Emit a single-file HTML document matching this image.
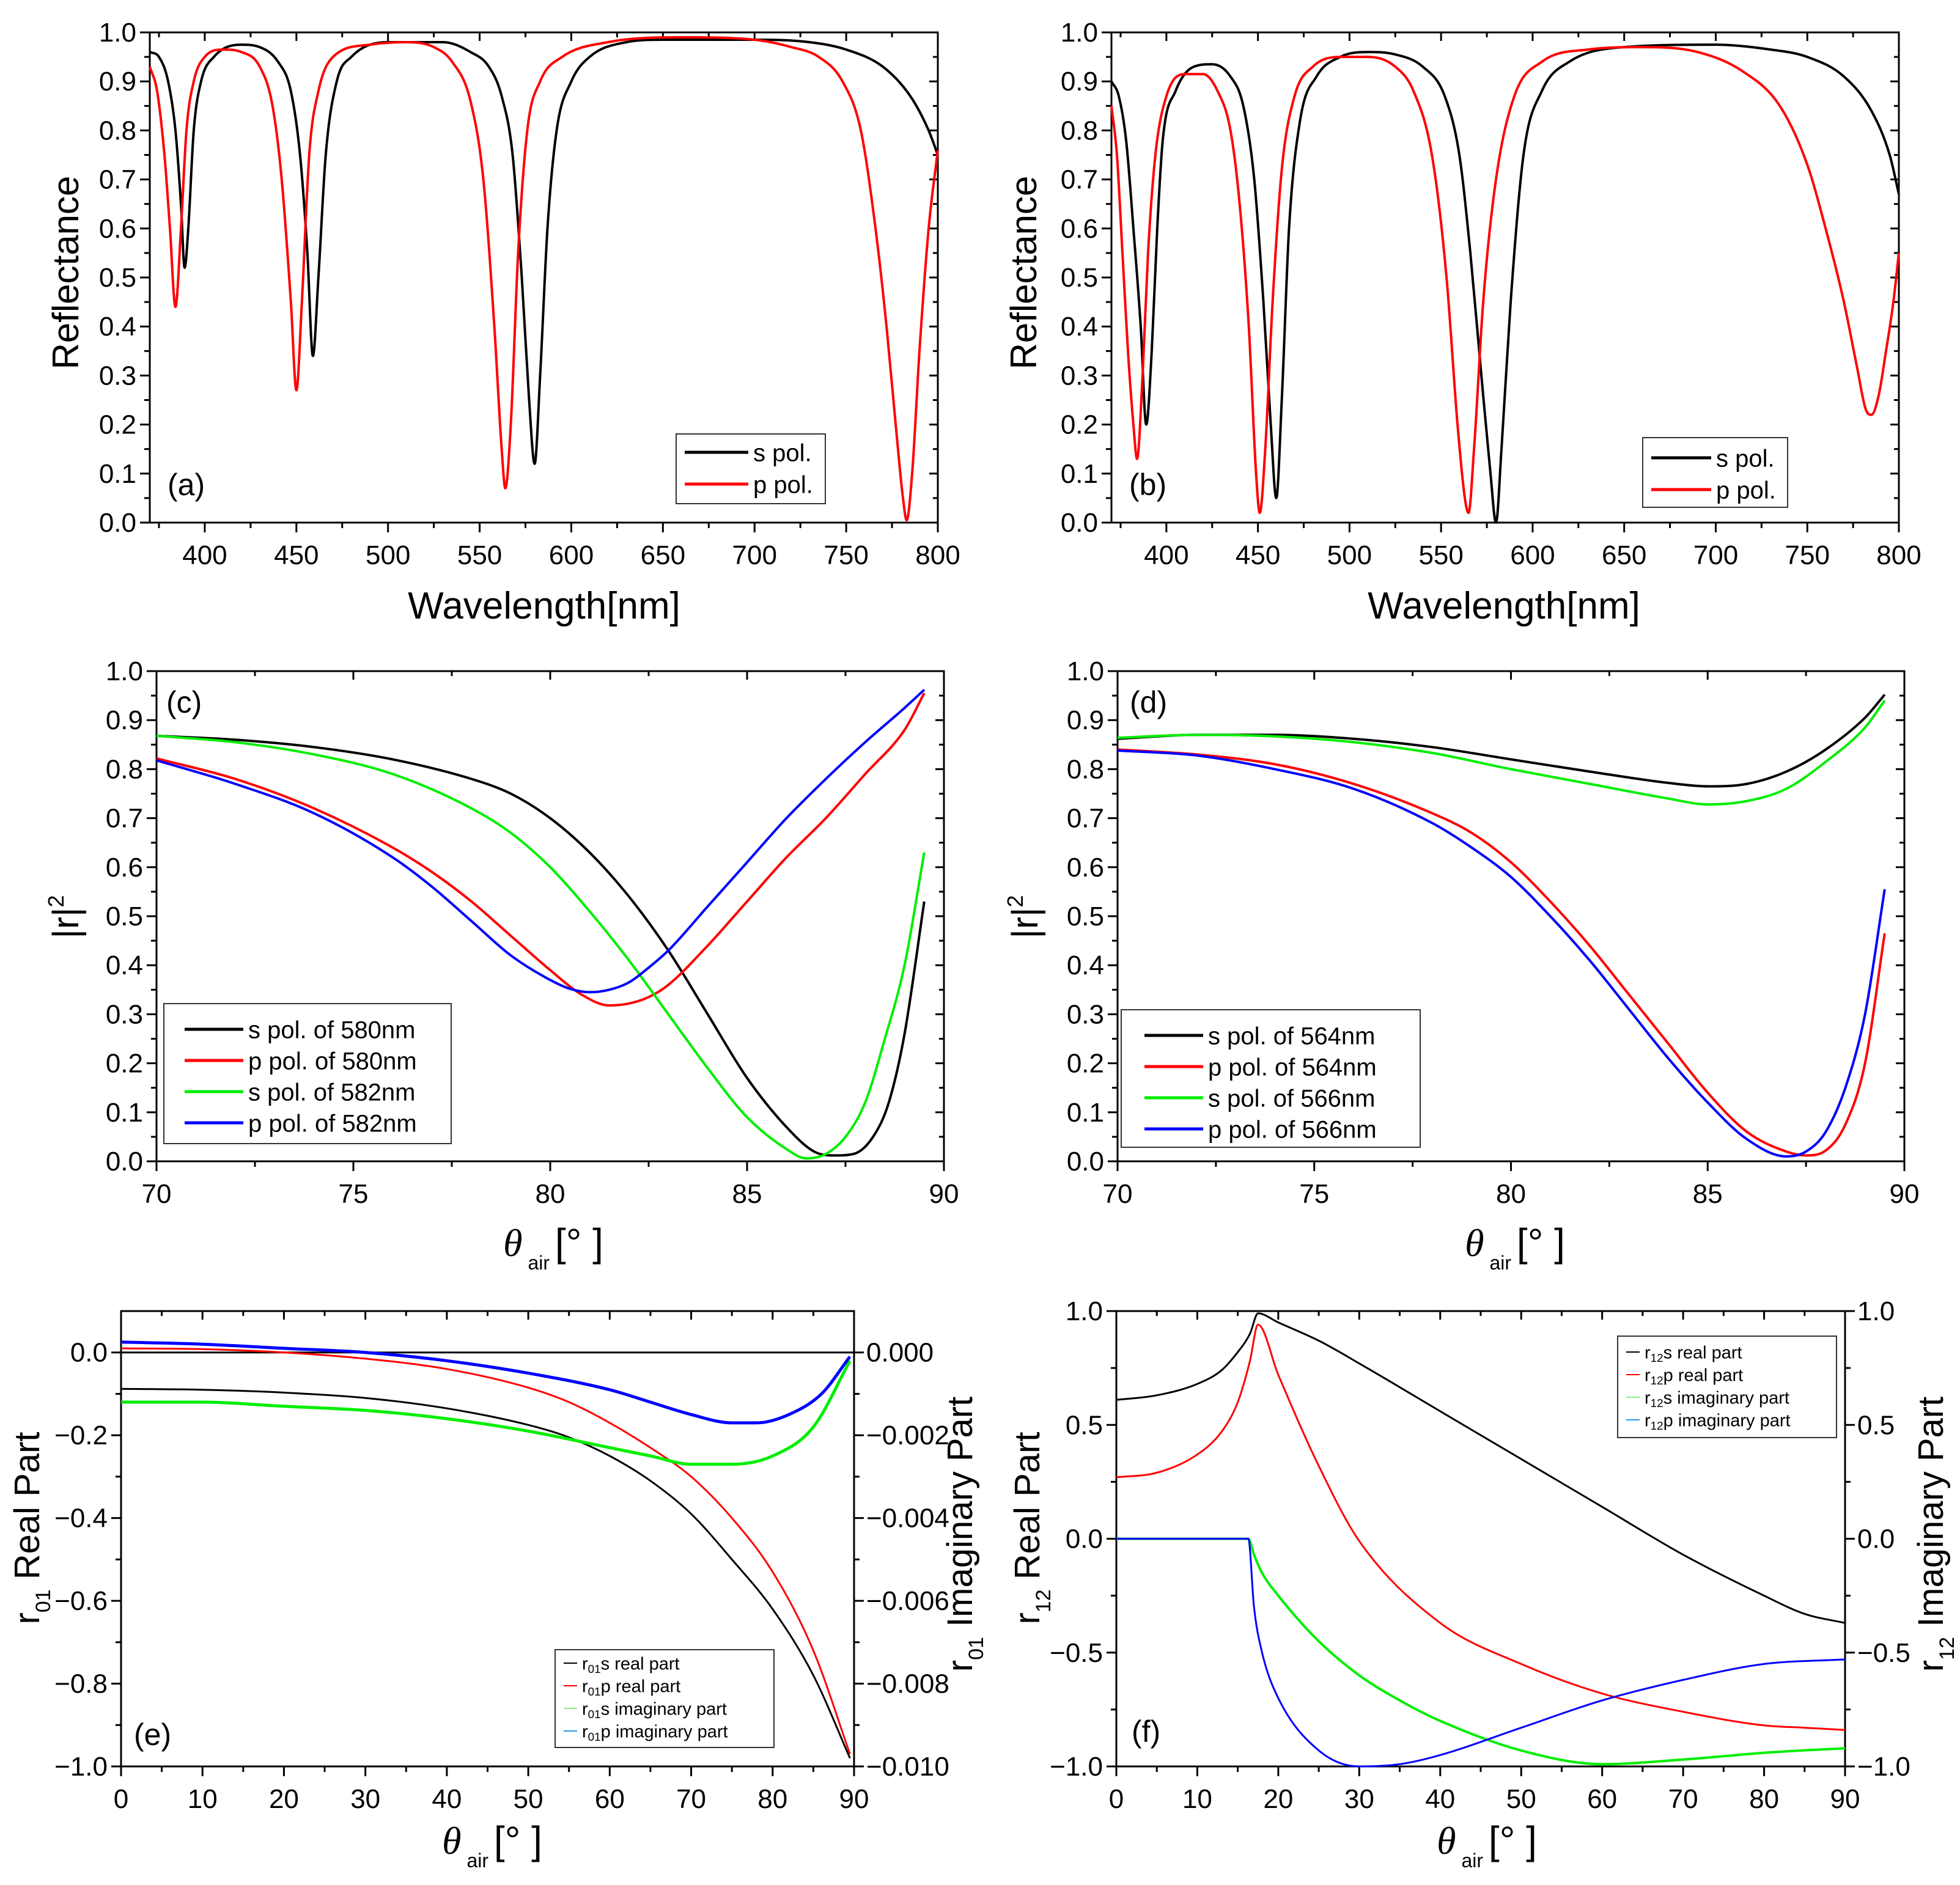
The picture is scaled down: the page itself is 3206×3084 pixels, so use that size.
<!DOCTYPE html>
<html><head><meta charset="utf-8">
<style>
html,body{margin:0;padding:0;background:#fff;}
svg{display:block;}
text{font-family:"Liberation Sans Narrow","Liberation Sans","Noto Sans CJK JP",sans-serif;fill:#000;}
.title{font-family:"Liberation Sans",sans-serif;}
</style></head>
<body>
<svg id="fig" xmlns="http://www.w3.org/2000/svg" width="3206" height="3084" viewBox="0 0 3206 3084"></svg>
<script>
// ---------- data ----------
const aSx=[370,375,380,384,387,389,391,394,398,405,420,430,440,447,452,456,459,462,466,472,480,500,530,545,555,562,568,573,577,580,583,587,592,600,610,630,650,700,730,750,770,785,795,800];
const aSy=[0.96,0.95,0.9,0.8,0.65,0.52,0.6,0.8,0.9,0.95,0.975,0.97,0.94,0.88,0.75,0.55,0.34,0.5,0.75,0.9,0.95,0.98,0.98,0.96,0.93,0.87,0.75,0.5,0.25,0.12,0.3,0.6,0.8,0.9,0.95,0.98,0.985,0.985,0.98,0.965,0.93,0.87,0.8,0.75];
const aPx=[370,374,378,381,384,387,390,394,400,410,420,430,437,442,447,450,453,457,462,470,490,510,525,535,545,552,558,562,564,567,571,576,583,595,620,660,700,720,735,748,758,766,772,777,781,783,786,790,795,800];
const aPy=[0.93,0.88,0.75,0.6,0.44,0.6,0.8,0.9,0.95,0.965,0.96,0.93,0.85,0.7,0.45,0.27,0.45,0.75,0.88,0.95,0.975,0.98,0.97,0.94,0.86,0.7,0.4,0.15,0.07,0.2,0.55,0.8,0.9,0.95,0.98,0.99,0.985,0.97,0.95,0.9,0.8,0.6,0.4,0.2,0.05,0.005,0.1,0.35,0.6,0.76];
const bSx=[370,374,378,382,386,389,392,395,398,405,415,425,435,442,448,453,457,460,463,467,473,482,495,510,525,540,552,560,566,572,577,580,583,588,595,605,620,650,700,730,750,770,785,795,800];
const bSy=[0.9,0.87,0.78,0.6,0.4,0.2,0.35,0.6,0.78,0.88,0.93,0.935,0.91,0.85,0.7,0.45,0.2,0.05,0.25,0.6,0.82,0.91,0.95,0.96,0.955,0.93,0.87,0.75,0.55,0.3,0.1,0.0,0.15,0.45,0.75,0.88,0.94,0.97,0.975,0.965,0.95,0.91,0.84,0.75,0.67];
const bPx=[370,373,376,379,382,384,387,390,394,400,410,420,428,435,440,445,449,451,454,458,463,470,480,495,510,525,535,545,553,559,563,565,568,573,580,590,605,630,660,690,715,735,750,760,770,777,782,785,789,793,797,800];
const bPy=[0.85,0.75,0.55,0.35,0.2,0.13,0.3,0.55,0.75,0.87,0.915,0.915,0.88,0.8,0.65,0.4,0.1,0.02,0.15,0.45,0.72,0.87,0.93,0.95,0.95,0.93,0.88,0.75,0.5,0.2,0.05,0.02,0.15,0.45,0.7,0.87,0.94,0.965,0.97,0.96,0.92,0.85,0.73,0.6,0.45,0.32,0.23,0.22,0.26,0.35,0.45,0.55];
const cSx=[70,72,74,76,78,79,80,81,82,83,84,85,86,86.7,87.2,87.7,88.2,88.6,89,89.5];
const cSy=[0.868,0.86,0.845,0.82,0.78,0.75,0.7,0.63,0.54,0.43,0.3,0.17,0.07,0.02,0.012,0.015,0.05,0.12,0.26,0.53];
const cPx=[70,72,74,76,77,78,79,80,80.8,81.5,82,82.5,83,84,85,86,87,88,89,89.5];
const cPy=[0.822,0.78,0.72,0.64,0.59,0.53,0.46,0.39,0.34,0.318,0.322,0.335,0.36,0.44,0.53,0.62,0.7,0.79,0.88,0.955];
const cS2x=[70,72,74,76,78,79,80,81,82,83,84,85,86,86.5,87,87.5,88,88.5,89,89.5];
const cS2y=[0.868,0.855,0.83,0.79,0.72,0.67,0.6,0.51,0.41,0.3,0.19,0.09,0.025,0.006,0.015,0.05,0.12,0.25,0.4,0.63];
const cP2x=[70,72,74,76,77,78,79,80,80.5,81,81.5,82,82.5,83,84,85,86,87,88,89,89.5];
const cP2y=[0.818,0.77,0.71,0.62,0.56,0.49,0.42,0.37,0.352,0.345,0.35,0.365,0.395,0.43,0.52,0.61,0.7,0.78,0.855,0.925,0.962];
const dSx=[70,72,74,76,78,80,82,84,85,86,87,88,89,89.5];
const dSy=[0.862,0.87,0.87,0.862,0.845,0.82,0.795,0.772,0.765,0.77,0.795,0.84,0.905,0.952];
const dS2y=[0.864,0.87,0.867,0.855,0.833,0.8,0.77,0.74,0.728,0.735,0.76,0.815,0.885,0.94];
const dPx=[70,72,74,76,78,79,80,81,82,83,84,85,86,87,87.5,88,88.5,89,89.5];
const dPy=[0.84,0.83,0.81,0.77,0.71,0.67,0.61,0.53,0.44,0.34,0.24,0.14,0.06,0.02,0.012,0.022,0.075,0.2,0.465];
const dP2x=[70,72,74,76,78,79,80,81,82,83,84,85,86,87,87.5,88,88.5,89,89.5];
const dP2y=[0.838,0.828,0.8,0.76,0.69,0.64,0.58,0.5,0.41,0.31,0.21,0.12,0.045,0.01,0.02,0.06,0.15,0.3,0.555];
const eX=[0,10,20,30,40,50,55,60,65,70,75,80,85,89.5];
const eSreal=[-0.088,-0.09,-0.097,-0.11,-0.135,-0.175,-0.205,-0.25,-0.31,-0.39,-0.5,-0.62,-0.78,-0.98];
const ePreal=[0.01,0.008,0.0,-0.015,-0.04,-0.085,-0.12,-0.17,-0.23,-0.3,-0.4,-0.53,-0.72,-0.97];
const eXi=[0,10,20,30,40,50,60,65,70,75,80,85,89.5];
const eSimag=[-0.0012,-0.0012,-0.0013,-0.0014,-0.0016,-0.0019,-0.0023,-0.0025,-0.0027,-0.0027,-0.0025,-0.0018,-0.0002];
const eXp=[0,10,20,30,40,50,60,65,70,75,78,82,86,89.5];
const ePimag=[0.00025,0.0002,0.0001,0.0,-0.0002,-0.0005,-0.0009,-0.0012,-0.0015,-0.0017,-0.0017,-0.0015,-0.001,-0.0001];
const fX=[0,5,10,13,15,16.5,17.5,20,25,30,40,50,60,70,80,85,90];
const fSreal=[0.61,0.63,0.68,0.74,0.82,0.9,0.99,0.95,0.87,0.77,0.56,0.35,0.14,-0.07,-0.25,-0.33,-0.37];
const fPreal=[0.27,0.29,0.37,0.47,0.6,0.78,0.94,0.72,0.32,-0.01,-0.37,-0.55,-0.68,-0.76,-0.82,-0.83,-0.84];
const fXi=[0,16.3,17,18,20,25,30,35,40,50,60,70,80,90];
const fSimag=[0,0,-0.07,-0.15,-0.25,-0.45,-0.6,-0.71,-0.8,-0.93,-0.99,-0.97,-0.94,-0.92];
const fPimag=[0,0,-0.3,-0.5,-0.7,-0.93,-1.0,-0.99,-0.95,-0.83,-0.71,-0.62,-0.55,-0.53];
const wlTicks=[400,450,500,550,600,650,700,750,800];
const rTicks=[0,0.1,0.2,0.3,0.4,0.5,0.6,0.7,0.8,0.9,1.0];
const angTicks=[70,75,80,85,90];
const thTicks=[0,10,20,30,40,50,60,70,80,90];
const eLeftTicks=[0,-0.2,-0.4,-0.6,-0.8,-1.0];
const eRightTicks=[0,-0.002,-0.004,-0.006,-0.008,-0.010];
const fTicks=[1.0,0.5,0.0,-0.5,-1.0];

// ---------- drawing ----------
const NS="http://www.w3.org/2000/svg";
const svg=document.getElementById('fig');
function mk(tag,attrs,parent){const e=document.createElementNS(NS,tag);for(const k in attrs)e.setAttribute(k,attrs[k]);(parent||svg).appendChild(e);return e;}
function scale(d0,d1,p0,p1){return v=>p0+(v-d0)*(p1-p0)/(d1-d0);}
// monotone cubic (Fritsch-Carlson) in data space, no overshoot
function smoothPath(xs,ys,sx,sy){
  const n=xs.length, d=[], m=new Array(n);
  for(let i=0;i<n-1;i++) d.push((ys[i+1]-ys[i])/(xs[i+1]-xs[i]));
  m[0]=d[0]; m[n-1]=d[n-2];
  for(let i=1;i<n-1;i++){ m[i]=(d[i-1]*d[i]<=0)?0:(d[i-1]+d[i])/2; }
  for(let i=0;i<n-1;i++){
    if(d[i]===0){m[i]=0;m[i+1]=0;continue;}
    const a=m[i]/d[i], b=m[i+1]/d[i], s=a*a+b*b;
    if(s>9){const t=3/Math.sqrt(s);m[i]=t*a*d[i];m[i+1]=t*b*d[i];}
  }
  let p='M'+sx(xs[0]).toFixed(1)+','+sy(ys[0]).toFixed(1);
  for(let i=0;i<n-1;i++){
    const h=xs[i+1]-xs[i];
    const c1x=xs[i]+h/3, c1y=ys[i]+m[i]*h/3, c2x=xs[i+1]-h/3, c2y=ys[i+1]-m[i+1]*h/3;
    p+='C'+sx(c1x).toFixed(1)+','+sy(c1y).toFixed(1)+' '+sx(c2x).toFixed(1)+','+sy(c2y).toFixed(1)+' '+sx(xs[i+1]).toFixed(1)+','+sy(ys[i+1]).toFixed(1);
  }
  return p;
}
function txt(s,x,y,size,anchor,parent,cls){const t=mk('text',{x:x,y:y,'font-size':size,'text-anchor':anchor||'middle'},parent);if(cls)t.setAttribute('class',cls);t.textContent=s;return t;}

function panel(cfg){
  const g=mk('g',{});
  
  
  const L=cfg.L,R=cfg.R,T=cfg.T,B=cfg.B;
  const sx=scale(cfg.x0,cfg.x1,L,R), sy=scale(cfg.y0,cfg.y1,B,T);
  const frame=mk('rect',{x:L,y:T,width:R-L,height:B-T,fill:'none',stroke:'#000','stroke-width':3},g);
  
  
  const xt=mk('g',{},g);
  
  
  cfg.xticks.forEach(v=>{
    const x=sx(v);
    mk('line',{x1:x,y1:B,x2:x,y2:B+16,stroke:'#000','stroke-width':3},xt);
    mk('line',{x1:x,y1:T,x2:x,y2:T+14,stroke:'#000','stroke-width':3},xt);
    txt(cfg.xfmt(v),x,B+68,44,'middle',xt);
  });
  cfg.xminor.forEach(v=>{const x=sx(v);
    mk('line',{x1:x,y1:B,x2:x,y2:B+9,stroke:'#000','stroke-width':3},xt);
    mk('line',{x1:x,y1:T,x2:x,y2:T+8,stroke:'#000','stroke-width':3},xt);});
  const yt=mk('g',{},g);
  
  
  cfg.yticks.forEach(v=>{
    const y=sy(v);
    mk('line',{x1:L-16,y1:y,x2:L,y2:y,stroke:'#000','stroke-width':3},yt);
    if(!cfg.rightAxis) mk('line',{x1:R-14,y1:y,x2:R,y2:y,stroke:'#000','stroke-width':3},yt);
    txt(cfg.yfmt(v),L-22,y+15,44,'end',yt);
  });
  cfg.yminor.forEach(v=>{const y=sy(v);
    mk('line',{x1:L-9,y1:y,x2:L,y2:y,stroke:'#000','stroke-width':3},yt);
    mk('line',{x1:R,y1:y,x2:R+(cfg.rightAxis?9:-8),y2:y,stroke:'#000','stroke-width':3},yt);});
  let sy2=sy;
  if(cfg.rightAxis){
    const ra=cfg.rightAxis;
    sy2=scale(ra.y0,ra.y1,B,T);
    const rt=mk('g',{},g);
    
    
    ra.ticks.forEach(v=>{const y=sy2(v);
      mk('line',{x1:R,y1:y,x2:R+16,y2:y,stroke:'#000','stroke-width':3},rt);
      txt(ra.fmt(v),R+20,y+15,44,'start',rt);});
  }
  if(cfg.zeroLine){mk('line',{x1:L,y1:sy(0),x2:R,y2:sy(0),stroke:'#000','stroke-width':3},g);}
  cfg.series.forEach(s=>{
    const p=mk('path',{d:smoothPath(s.x,s.y,sx,s.right?sy2:sy),fill:'none',stroke:s.color,'stroke-width':s.w||4,'stroke-linejoin':'round'},g);
    
    
  });
  const pl=txt(cfg.label,cfg.labX,cfg.labY,50,'start',g);
  
  
  const lg=cfg.legend;
  const lgG=mk('g',{},g);
  
  
  mk('rect',{x:lg.x,y:lg.y,width:lg.w,height:lg.h,fill:'#fff',stroke:'#333','stroke-width':2},lgG);
  cfg.series.forEach((s,i)=>{
    const yy=lg.y+lg.pad+i*lg.row;
    const e=mk('g',{},lgG);
    
    
    mk('line',{x1:lg.x+lg.lx0,y1:yy,x2:lg.x+lg.lx1,y2:yy,stroke:s.legColor||s.color,'stroke-width':lg.lw},e);
    const t=mk('text',{x:lg.x+lg.lx1+8,y:yy+lg.fs*0.36,'font-size':lg.fs},e);
    if(s.sub){t.appendChild(document.createTextNode('r'));
      const ts=mk('tspan',{'font-size':lg.fs*0.65,dy:lg.fs*0.2},t);ts.textContent=s.sub;
      const tr=mk('tspan',{dy:-lg.fs*0.2},t);tr.textContent=s.label;}
    else t.textContent=s.label;
  });
  return {g,sx,sy};
}
const f1=v=>v.toFixed(1), f0=v=>String(v), f3=v=>(v===0?'0.000':'\u2212'+Math.abs(v).toFixed(3)), fm1=v=>(v<0?'\u2212':'')+Math.abs(v).toFixed(1);
const wlMinor=[375,425,475,525,575,625,675,725,775];
const rMinor=[0.05,0.15,0.25,0.35,0.45,0.55,0.65,0.75,0.85,0.95];
const angMinor=[72.5,77.5,82.5,87.5];
const thMinor=[5,15,25,35,45,55,65,75,85];

panel({name:'panel-a',L:245,R:1534,T:53,B:855,x0:370,x1:800,y0:0,y1:1,xticks:wlTicks,xminor:wlMinor,yticks:rTicks,yminor:rMinor,xfmt:f0,yfmt:f1,label:'(a)',labX:274,labY:810,
  series:[{name:'s-pol-line',label:'s pol.',color:'#000',x:aSx,y:aSy},{name:'p-pol-line',label:'p pol.',color:'#f00',x:aPx,y:aPy}],
  legend:{x:1106,y:710,w:244,h:114,pad:30,row:52,lx0:14,lx1:118,lw:5,fs:40}});
panel({name:'panel-b',L:1818,R:3106,T:53,B:855,x0:370,x1:800,y0:0,y1:1,xticks:wlTicks,xminor:wlMinor,yticks:rTicks,yminor:rMinor,xfmt:f0,yfmt:f1,label:'(b)',labX:1847,labY:810,
  series:[{name:'s-pol-line',label:'s pol.',color:'#000',x:bSx,y:bSy},{name:'p-pol-line',label:'p pol.',color:'#f00',x:bPx,y:bPy}],
  legend:{x:2687,y:716,w:237,h:114,pad:33,row:52,lx0:14,lx1:112,lw:5,fs:40}});
panel({name:'panel-c',L:256,R:1544,T:1098,B:1900,x0:70,x1:90,y0:0,y1:1,xticks:angTicks,xminor:angMinor,yticks:rTicks,yminor:rMinor,xfmt:f0,yfmt:f1,label:'(c)',labX:272,labY:1166,
  series:[{name:'s-pol-580-line',label:'s pol. of 580nm',color:'#000',x:cSx,y:cSy},{name:'p-pol-580-line',label:'p pol. of 580nm',color:'#f00',x:cPx,y:cPy},
          {name:'s-pol-582-line',label:'s pol. of 582nm',color:'#0e0',x:cS2x,y:cS2y},{name:'p-pol-582-line',label:'p pol. of 582nm',color:'#00f',x:cP2x,y:cP2y}],
  legend:{x:268,y:1642,w:470,h:229,pad:42,row:51,lx0:34,lx1:130,lw:5,fs:40}});
panel({name:'panel-d',L:1828,R:3115,T:1098,B:1900,x0:70,x1:90,y0:0,y1:1,xticks:angTicks,xminor:angMinor,yticks:rTicks,yminor:rMinor,xfmt:f0,yfmt:f1,label:'(d)',labX:1848,labY:1166,
  series:[{name:'s-pol-564-line',label:'s pol. of 564nm',color:'#000',x:dSx,y:dSy},{name:'p-pol-564-line',label:'p pol. of 564nm',color:'#f00',x:dPx,y:dPy},
          {name:'s-pol-566-line',label:'s pol. of 566nm',color:'#0e0',x:dSx,y:dS2y},{name:'p-pol-566-line',label:'p pol. of 566nm',color:'#00f',x:dP2x,y:dP2y}],
  legend:{x:1834,y:1652,w:489,h:225,pad:42,row:51,lx0:38,lx1:134,lw:5,fs:40}});
panel({name:'panel-e',L:198,R:1397,T:2145,B:2890,x0:0,x1:90,y0:-1,y1:0.1,xticks:thTicks,xminor:thMinor,yticks:eLeftTicks,yminor:[-0.1,-0.3,-0.5,-0.7,-0.9],xfmt:f0,yfmt:fm1,label:'(e)',labX:219,labY:2855,zeroLine:true,
  rightAxis:{y0:-0.01,y1:0.001,ticks:eRightTicks,fmt:f3},
  series:[{name:'r01s-real-line',sub:'01',label:'s real part',color:'#000',x:eX,y:eSreal,w:3},{name:'r01p-real-line',sub:'01',label:'p real part',color:'#f00',x:eX,y:ePreal,w:3},
          {name:'r01s-imag-line',sub:'01',label:'s imaginary part',color:'#0e0',legColor:'#8e8',x:eXi,y:eSimag,right:true,w:5},{name:'r01p-imag-line',sub:'01',label:'p imaginary part',color:'#00f',legColor:'#29e',x:eXp,y:ePimag,right:true,w:5}],
  legend:{x:908,y:2699,w:358,h:160,pad:22,row:37,lx0:14,lx1:36,lw:2,fs:29}});
panel({name:'panel-f',L:1826,R:3018,T:2145,B:2890,x0:0,x1:90,y0:-1,y1:1,xticks:thTicks,xminor:thMinor,yticks:fTicks,yminor:[0.75,0.25,-0.25,-0.75],xfmt:f0,yfmt:fm1,label:'(f)',labX:1851,labY:2850,
  rightAxis:{y0:-1,y1:1,ticks:fTicks,fmt:fm1},
  series:[{name:'r12s-real-line',sub:'12',label:'s real part',color:'#000',x:fX,y:fSreal,w:3},{name:'r12p-real-line',sub:'12',label:'p real part',color:'#f00',x:fX,y:fPreal,w:3},
          {name:'r12s-imag-line',sub:'12',label:'s imaginary part',color:'#0e0',legColor:'#8e8',x:fXi,y:fSimag,w:4},{name:'r12p-imag-line',sub:'12',label:'p imaginary part',color:'#00f',legColor:'#29e',x:fXi,y:fPimag,w:3}],
  legend:{x:2646,y:2186,w:358,h:166,pad:26,row:37,lx0:14,lx1:36,lw:2,fs:29}});

// ---------- axis titles ----------
function rot(s,x,y,size,name){const t=mk('text',{x:0,y:0,'font-size':size,'text-anchor':'middle',transform:'translate('+x+','+y+') rotate(-90)','class':'title'});t.textContent=s;
  
  return t;}
function xt(s,x,y,size,name){const t=mk('text',{x:x,y:y,'font-size':size,'text-anchor':'middle'});t.textContent=s;
  
  return t;}
rot('Reflectance',128,446,60,'y-axis-title-a');
rot('Reflectance',1695,446,60,'y-axis-title-b');
xt('Wavelength[nm]',890,1012,62,'x-axis-title-a');
xt('Wavelength[nm]',2460,1012,62,'x-axis-title-b');
function rr(x,y,name){const t=mk('text',{x:0,y:0,'font-size':60,'text-anchor':'middle',transform:'translate('+x+','+y+') rotate(-90)','class':'title'});
  
  
  t.textContent='|r|';const s=mk('tspan',{'font-size':36,dy:-24},t);s.textContent='2';}
rr(128,1500,'y-axis-title-c');
rr(1697,1500,'y-axis-title-d');
function theta(x,y,name){const t=mk('text',{x:x,y:y,'font-size':64,'text-anchor':'middle'});
  
  
  const a=mk('tspan',{'font-style':'italic','font-family':'Liberation Serif, serif'},t);a.textContent='θ';
  const b=mk('tspan',{'font-size':32,dy:22},t);b.textContent=' air ';
  const c=mk('tspan',{dy:-22},t);c.textContent='[°  ]';}
theta(905,2055,'x-axis-title-c');
theta(2478,2055,'x-axis-title-d');
theta(805,3033,'x-axis-title-e');
theta(2432,3033,'x-axis-title-f');
function rt(x,y,sub,word,name){const t=mk('text',{x:0,y:0,'font-size':58,'text-anchor':'middle',transform:'translate('+x+','+y+') rotate(-90)','class':'title'});
  
  
  t.appendChild(document.createTextNode('r'));const s=mk('tspan',{'font-size':34,dy:18},t);s.textContent=sub;
  const w=mk('tspan',{dy:-18},t);w.textContent='  '+word;}
rt(64,2500,'01','Real Part','y-axis-title-e-left');
rt(1590,2510,'01','Imaginary Part','y-axis-title-e-right');
rt(1700,2500,'12','Real Part','y-axis-title-f-left');
rt(3178,2510,'12','Imaginary Part','y-axis-title-f-right');
</script>
</body></html>
